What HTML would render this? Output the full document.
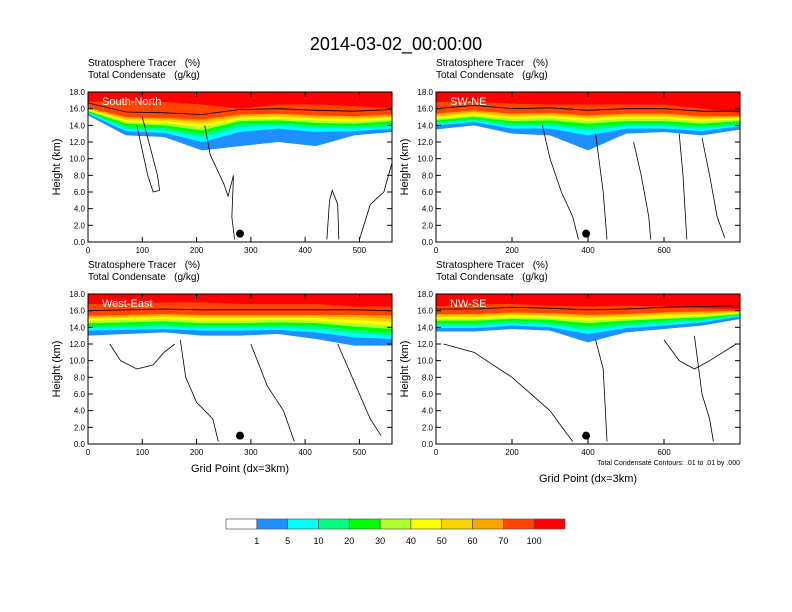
<!DOCTYPE html>
<html><head><meta charset="utf-8"><style>
body{margin:0;background:#fff}
svg{display:block;font-family:"Liberation Sans",sans-serif}
text{white-space:pre}
</style></head><body>
<svg id="c" width="792" height="612" viewBox="0 0 792 612" xmlns="http://www.w3.org/2000/svg" xml:space="preserve">
<text x="396" y="50" font-size="18" text-anchor="middle">2014-03-02_00:00:00</text>
</svg>
<script>
const levels=[1,5,10,20,30,40,50,60,70,100];
const colors=["#ffffff","#1e8fff","#00ffff","#00ff80","#00ff00","#adff2f","#ffff00","#ffd700","#ffa500","#ff4500","#ff0000"];
const xs1=[0,70,140,210,280,350,420,490,560];
const xs2=[0,100,200,300,400,500,600,700,800];
const p1z=[[15.2,12.8,12.6,11.0,11.5,12.0,11.5,12.8,13.2],[15.4,13.3,13.1,12.0,13.2,13.6,13.2,13.3,13.6],[15.5,13.6,13.4,12.6,13.8,14.0,13.7,13.6,13.9],[15.6,13.9,13.7,13.0,14.2,14.3,14.0,13.9,14.2],[15.7,14.2,14.0,13.4,14.5,14.6,14.3,14.2,14.5],[15.8,14.4,14.3,13.8,14.7,14.8,14.6,14.5,14.7],[15.9,14.6,14.5,14.1,14.9,15.0,14.8,14.7,14.9],[16.0,14.8,14.7,14.4,15.1,15.2,15.0,14.9,15.1],[16.1,15.0,14.9,14.7,15.3,15.4,15.2,15.1,15.3],[16.8,17.0,16.8,16.5,16.0,16.5,16.5,16.3,16.0]];
const p2z=[[13.5,14.0,13.0,12.8,11.0,13.0,13.2,12.8,13.5],[14.0,14.4,13.6,13.6,12.8,13.6,13.6,13.3,13.9],[14.2,14.6,13.9,14.0,13.4,13.9,13.9,13.6,14.1],[14.4,14.8,14.2,14.3,13.8,14.2,14.2,13.9,14.3],[14.6,15.0,14.5,14.6,14.2,14.5,14.5,14.2,14.5],[14.8,15.2,14.8,14.9,14.5,14.8,14.8,14.5,14.7],[15.0,15.4,15.0,15.1,14.8,15.0,15.0,14.7,14.9],[15.2,15.6,15.2,15.3,15.0,15.2,15.2,14.9,15.0],[15.4,15.8,15.4,15.5,15.2,15.4,15.4,15.1,15.1],[16.8,16.8,16.6,16.5,16.5,16.5,16.5,16.0,15.5]];
const p3z=[[13.0,13.2,13.4,13.0,13.0,13.2,12.6,11.8,11.8],[13.6,13.7,13.8,13.6,13.6,13.7,13.4,12.8,12.6],[13.9,14.0,14.1,13.9,13.9,14.0,13.8,13.3,13.0],[14.2,14.3,14.4,14.2,14.2,14.3,14.2,13.7,13.4],[14.5,14.6,14.7,14.5,14.5,14.6,14.5,14.1,13.8],[14.8,14.9,15.0,14.8,14.8,14.9,14.8,14.5,14.2],[15.0,15.1,15.2,15.1,15.1,15.1,15.1,14.9,14.6],[15.2,15.3,15.4,15.3,15.3,15.3,15.3,15.2,15.0],[15.4,15.5,15.6,15.5,15.5,15.5,15.5,15.5,15.4],[16.8,16.8,17.0,17.0,16.8,16.8,16.8,16.5,16.5]];
const p4z=[[13.5,13.5,13.8,13.6,12.2,13.4,13.8,14.2,15.0],[13.9,13.9,14.2,14.0,13.2,13.9,14.2,14.6,15.3],[14.2,14.2,14.5,14.3,13.7,14.2,14.5,14.8,15.4],[14.5,14.5,14.8,14.6,14.1,14.5,14.8,15.0,15.5],[14.8,14.8,15.0,14.9,14.5,14.8,15.0,15.2,15.6],[15.0,15.0,15.2,15.1,14.8,15.0,15.2,15.4,15.7],[15.2,15.2,15.4,15.3,15.1,15.2,15.4,15.5,15.8],[15.4,15.4,15.6,15.5,15.3,15.4,15.6,15.7,15.9],[15.6,15.6,15.8,15.7,15.5,15.6,15.8,15.9,16.0],[16.5,16.8,16.8,16.6,16.5,16.6,16.5,16.3,16.2]];
const c1=[[[90,14],[100,11],[110,8],[120,6],[132,6.2],[128,8],[112,12],[100,15]],[[215,14],[225,10.5],[250,7],[258,5.5],[268,8],[265,3],[270,0.3]],[[440,0.3],[445,5],[450,6.2],[460,4.5],[462,0.3]],[[500,0.3],[520,4.5],[545,6],[560,9.5]]];
const c2=[[[280,14],[300,10],[330,6],[360,3],[375,0.3]],[[420,13],[440,6],[450,0.3]],[[520,12],[540,8],[560,3],[565,0.3]],[[640,13],[650,8],[660,0.3]],[[700,12.5],[720,8],[740,3],[760,0.5]]];
const c3=[[[40,12],[60,10],[90,9],[120,9.5],[140,11],[160,12]],[[170,12.5],[180,8],[200,5],[230,3],[240,0.3]],[[300,12],[330,7],[360,4],[380,0.3]],[[460,12],[480,9],[500,6],[520,3],[540,1]]];
const c4=[[[20,12],[100,11],[200,8],[300,4],[340,1.5],[360,0.3]],[[420,12.5],[440,9],[450,0.3]],[[600,12.5],[640,10],[680,9],[720,10],[790,12]],[[680,13],[700,6],[720,3],[730,0.3]]];
const dots=[280,395,280,395];
const panels=[
 {name:"South-North",x0:88,y0:92,xmax:560,xs:xs1,z:p1z,c:c1,xt:[0,100,200,300,400,500],dot:dots[0]},
 {name:"SW-NE",x0:436,y0:92,xmax:800,xs:xs2,z:p2z,c:c2,xt:[0,200,400,600],dot:dots[1]},
 {name:"West-East",x0:88,y0:294,xmax:560,xs:xs1,z:p3z,c:c3,xt:[0,100,200,300,400,500],dot:dots[2]},
 {name:"NW-SE",x0:436,y0:294,xmax:800,xs:xs2,z:p4z,c:c4,xt:[0,200,400,600],dot:dots[3]}];
const W=304,H=150,NS="http://www.w3.org/2000/svg";
const svg=document.getElementById('c');
function mk(t,a,p){const e=document.createElementNS(NS,t);for(const k in a)e.setAttribute(k,a[k]);(p||svg).appendChild(e);return e;}
panels.forEach((p,pi)=>{
 const g=mk('g',{});
 
 
 const sx=v=>p.x0+v/p.xmax*W, sy=v=>p.y0+H-v/18*H;
 const t1=mk('text',{x:p.x0,y:p.y0-26,'font-size':10},g);t1.textContent="Stratosphere Tracer   (%)";
 
 const t2=mk('text',{x:p.x0,y:p.y0-14,'font-size':10},g);t2.textContent="Total Condensate   (g/kg)";
 
 mk('rect',{x:p.x0,y:p.y0,width:W,height:H,fill:'#fff'},g);
 p.z.forEach((row,li)=>{
  let d='M'+sx(p.xs[0])+','+p.y0;
  p.xs.forEach((xv,i)=>{d+=' L'+sx(xv)+','+sy(row[i]);});
  d+=' L'+sx(p.xs[p.xs.length-1])+','+p.y0+'Z';
  const e=mk('path',{d:d,fill:colors[li+1]},g);
  
  
 });
 p.c.forEach(line=>{
  const e=mk('polyline',{points:line.map(q=>sx(q[0])+','+sy(q[1])).join(' '),fill:'none',stroke:'#000','stroke-width':0.8},g);
  
  
 });
 const tp=mk('polyline',{points:p.xs.map((xv,i)=>sx(xv)+','+sy(p.z[8][i]+0.6)).join(' '),fill:'none',stroke:'#000','stroke-width':0.8},g);
 
 const dt=mk('circle',{cx:sx(p.dot),cy:sy(1.0),r:4,fill:'#000'},g);
 
 const nm=mk('text',{x:p.x0+14,y:p.y0+13,'font-size':11,fill:'#fff'},g);nm.textContent=p.name;
 
 mk('rect',{x:p.x0,y:p.y0,width:W,height:H,fill:'none',stroke:'#000','stroke-width':1},g);
 for(let v=0;v<=18;v+=2){
  const y=sy(v);
  mk('line',{x1:p.x0,x2:p.x0+5,y1:y,y2:y,stroke:'#000'},g);
  mk('line',{x1:p.x0+W,x2:p.x0+W-5,y1:y,y2:y,stroke:'#000'},g);
  const tl=mk('text',{x:p.x0-3,y:y+3,'font-size':8,'text-anchor':'end'},g);tl.textContent=v.toFixed(1);
  
 }
 p.xt.forEach(v=>{
  const x=sx(v);
  mk('line',{x1:x,x2:x,y1:p.y0+H,y2:p.y0+H-5,stroke:'#000'},g);
  mk('line',{x1:x,x2:x,y1:p.y0,y2:p.y0+5,stroke:'#000'},g);
  const tl=mk('text',{x:x,y:p.y0+H+11,'font-size':8,'text-anchor':'middle'},g);tl.textContent=v;
  
 });
 const yl=mk('text',{x:0,y:0,'font-size':11,'text-anchor':'middle',transform:'translate('+(p.x0-28)+','+(p.y0+H/2)+') rotate(-90)'},g);
 yl.textContent="Height (km)";
 
});
const xl1=mk('text',{x:240,y:472,'font-size':11,'text-anchor':'middle'});xl1.textContent="Grid Point (dx=3km)";

const xl2=mk('text',{x:588,y:482,'font-size':11,'text-anchor':'middle'});xl2.textContent="Grid Point (dx=3km)";

const ct=mk('text',{x:740,y:465,'font-size':7,'text-anchor':'end'});ct.textContent="Total Condensate Contours: .01 to .01 by .000";

const cb=mk('g',{});

const bx0=226,bw=(565-226)/colors.length;
colors.forEach((c,i)=>{
 const r=mk('rect',{x:bx0+i*bw,y:519,width:bw,height:10,fill:c,stroke:'#555','stroke-width':0.7},cb);
 
});
levels.forEach((v,i)=>{
 const t=mk('text',{x:bx0+(i+1)*bw,y:544,'font-size':9,'text-anchor':'middle'},cb);t.textContent=v;
 
});
</script>
</body></html>
